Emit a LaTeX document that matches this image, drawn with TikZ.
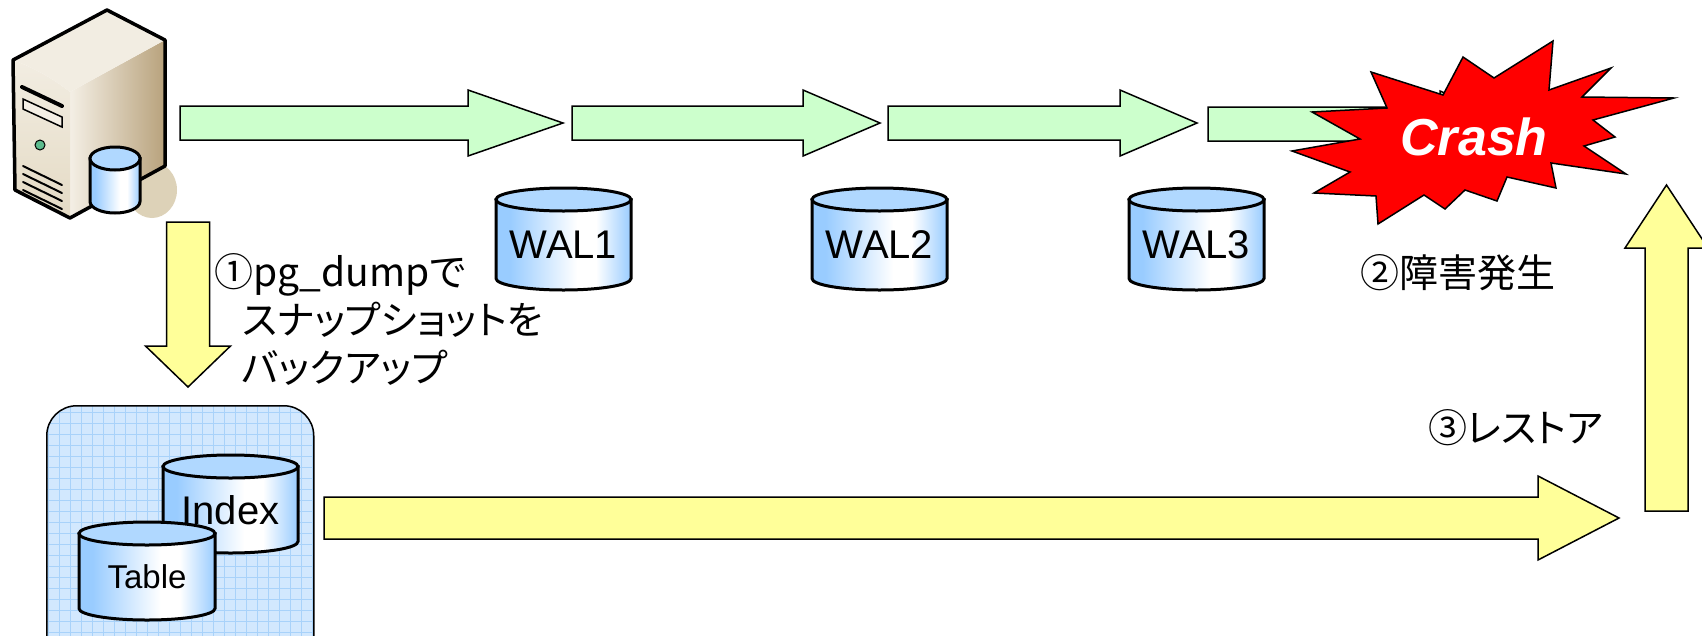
\documentclass[tikz,border=0pt]{standalone}
\usepackage{fontspec}
\setmainfont{Liberation Sans}
\newfontfamily\jpfont[RawFeature=+palt]{Noto Sans CJK JP}

\definecolor{walgreen}{HTML}{CCFFCC}
\definecolor{stepyellow}{HTML}{FFFF99}
\definecolor{cylblue}{HTML}{99CCFF}
\definecolor{cyltop}{HTML}{B0D8FF}
\definecolor{boxblue}{HTML}{D2E8FE}
\definecolor{boxgrid}{HTML}{A8D2FA}
\definecolor{srvtop}{HTML}{F2EDE2}
\definecolor{srvfront}{HTML}{E4DAC4}
\definecolor{srvlight}{HTML}{F4EFE5}
\definecolor{srvdark}{HTML}{B8A27C}
\definecolor{srvshadow}{HTML}{DDD2B8}
\definecolor{srvled}{HTML}{5DBB8E}

% only 25bp..75bp of a shading reaches the path
\pgfdeclarehorizontalshading{cylshade}{100bp}{color(0bp)=(cylblue); color(30bp)=(cylblue); color(55bp)=(white); color(62bp)=(white); color(75bp)=(cylblue); color(100bp)=(cylblue)}

\tikzset{
  pics/barrow/.style args={#1/#2/#3/#4}{code={
    \path[pic actions] (0,-#3) -- ({#1-#2},-#3) -- ({#1-#2},-#4) -- (#1,0)
      -- ({#1-#2},#4) -- ({#1-#2},#3) -- (0,#3) -- cycle;
  }},
  cylbody/.style={draw, line width=3pt, shade, shading=cylshade},
  cylend/.style={draw, line width=3pt, fill=cyltop},
  cyllabel/.style={inner sep=0pt, font=\fontsize{40}{40}\selectfont},
}

% database drum: name, left x, top y, width, height, text
\newcommand\cylry{11.5}
\newcommand\dbcyl[6]{%
  \path[cylbody] ({#2},{#3+\cylry}) -- ({#2},{#3+#5-\cylry})
    arc[start angle=180, end angle=0, x radius={#4/2}, y radius=\cylry]
    -- ({#2+#4},{#3+\cylry}) -- cycle;
  \path[cylend] ({#2+#4/2},{#3+\cylry}) ellipse [x radius={#4/2}, y radius=\cylry];
  \node[cyllabel] (#1) at ({#2+#4/2},{#3+\cylry+(#5-\cylry)/2}) {#6};
}

\begin{document}
\begin{tikzpicture}[x=1pt, y=-1pt,
  walarrow/.style={draw, fill=walgreen, line width=1.5pt},
  steparrow/.style={draw, fill=stepyellow, line width=1.5pt},
  jptext/.style={inner sep=0pt, align=left, font=\jpfont\fontsize{39}{48}\selectfont},
  backupbox/.style={draw, line width=1.5pt, rounded corners=30pt, fill=boxblue,
    minimum width=267pt, minimum height=300pt, anchor=north west,
    path picture={\draw[boxgrid, line width=0.6pt, step=11pt]
      (path picture bounding box.south west) grid (path picture bounding box.north east);}},
  crashstar/.style={draw, fill=red, line width=1.5pt, line join=miter}]
  \path[use as bounding box, clip] (0,0) rectangle (1702,635);

  % server
  \fill[srvshadow] (152,190) ellipse [x radius=25, y radius=28];
  \path[left color=srvlight, right color=srvdark] (70,92) -- (165,40) -- (165,166) -- (70,218) -- cycle;
  \path[top color=srvtop, bottom color=srvfront] (13,60) .. controls (35,68) and (55,80) .. (70,92)
    -- (70,218) -- (15,190) -- cycle;
  \path[fill=srvtop] (13,60) .. controls (35,68) and (55,80) .. (70,92) -- (165,40) -- (107,10) -- cycle;
  \draw[line width=3.5pt, line join=round] (13,60) -- (107,10) -- (165,40) -- (165,166)
    -- (70,218) -- (15,190) -- cycle;
  \draw[line width=4pt, line cap=round] (22,87) -- (62,106);
  \draw[line width=1.5pt, fill=srvlight] (23,99) -- (62,117) -- (62,127) -- (23,109) -- cycle;
  \draw[line width=1pt, fill=srvled] (40,145) circle (5);
  \foreach \v in {0,...,3}
    \draw[line width=2pt, line cap=round] (23,{166+8*\v}) -- (62,{185+8*\v});
  \dbcyl{srvdb}{90}{147}{50}{66}{}

  % WAL stream
  \pic[walarrow] (a1) at (180,123) {barrow=383/95/17/33};
  \pic[walarrow] (a2) at (572,123) {barrow=308/77/17/33};
  \pic[walarrow] (a3) at (888,123) {barrow=309/77/17/33};
  \pic[walarrow] (a4) at (1208,124) {barrow=309/77/17/33};
  \foreach \i/\x in {1/496,2/812,3/1129}
    {\dbcyl{wal\i}{\x}{188}{135}{102}{WAL\i}}

  % crash
  \path[crashstar] (1292,151) -- (1360,139) -- (1312,112) -- (1387,108) -- (1371,72)
    -- (1443,95) -- (1463,57) -- (1494,78) -- (1553,41) -- (1549,90) -- (1611,68)
    -- (1582,97) -- (1674,98) -- (1593,120) -- (1615,137) -- (1584,146) -- (1626,174)
    -- (1551,163) -- (1556,188) -- (1507,177) -- (1497,201) -- (1465,190) -- (1445,209)
    -- (1424,195) -- (1378,224) -- (1376,196) -- (1314,193) -- (1350,172) -- cycle;
  \node[text=white, inner sep=0pt, font=\fontsize{52}{52}\selectfont\bfseries\itshape] (crash) at (1474,137) {Crash};

  % backup and restore
  \pic[steparrow, rotate=-90] (down) at (188,222) {barrow=165/41/21.5/42.5};
  \node[backupbox] (backup) at (46,405) {};
  \dbcyl{index}{163}{455}{135}{98}{Index}
  \dbcyl{table}{79}{522}{136}{98}{\fontsize{33}{33}\selectfont Table}
  \pic[steparrow] (back) at (324,518) {barrow=1295/81/21/42};
  \pic[steparrow, rotate=90] (up) at (1666.5,511) {barrow=326/63/21.5/41.5};

  \node[jptext, anchor=north west] (dump) at (214,253)
    {①pg\_dumpで\\\hspace*{28pt}スナップショットを\\\hspace*{28pt}バックアップ};
  \node[jptext, anchor=west] (fail) at (1360,273) {②障害発生};
  \node[jptext, anchor=west] (restore) at (1428,428) {③レストア};
\end{tikzpicture}
\end{document}
